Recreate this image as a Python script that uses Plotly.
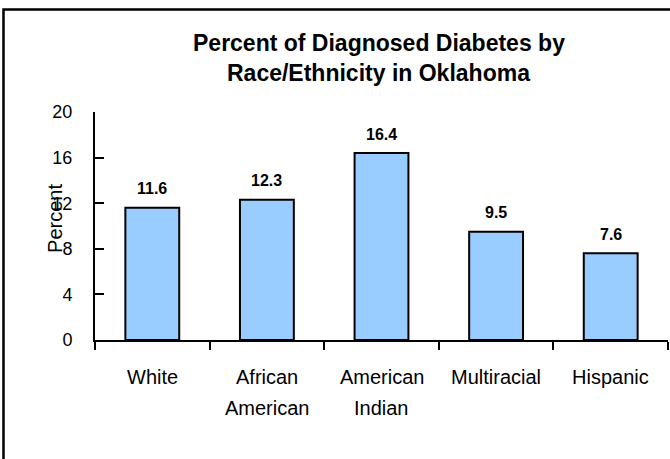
import plotly.graph_objects as go

# Diagnosed diabetes prevalence by race/ethnicity, Oklahoma
categories = ["White", "African American", "American Indian", "Multiracial", "Hispanic"]
label_lines = [["White"], ["African", "American"], ["American", "Indian"], ["Multiracial"], ["Hispanic"]]
percent = [11.6, 12.3, 16.4, 9.5, 7.6]
y_ticks = [0, 4, 8, 12, 16, 20]
title_lines = ["Percent of Diagnosed Diabetes by", "Race/Ethnicity in Oklahoma"]

REGULAR = "Liberation Sans, Arial, sans-serif"

fig = go.Figure(
    go.Bar(
        x=categories,
        y=percent,
        marker=dict(color="#99CCFF", line=dict(color="black", width=2)),
        hoverinfo="skip",
    )
)

annotations = []
# value labels above each bar
for cat, val in zip(categories, percent):
    annotations.append(dict(
        x=cat, y=val, xref="x", yref="y", text=f"<b>{val:.1f}</b>",
        showarrow=False, yanchor="middle", yshift=19,
        font=dict(family=REGULAR, size=16, color="black"),
    ))
# category labels, one annotation per line
for cat, lines in zip(categories, label_lines):
    for i, line in enumerate(lines):
        annotations.append(dict(
            x=cat, y=0, xref="x", yref="y", text=line, showarrow=False,
            yanchor="middle", yshift=-37 - 31 * i,
            font=dict(family=REGULAR, size=20, color="black"),
        ))
# y-axis title
annotations.append(dict(
    x=-0.07, y=0.535, xref="paper", yref="paper", text="Percent",
    showarrow=False, textangle=-90, xanchor="center", yanchor="middle",
    font=dict(family=REGULAR, size=20, color="black"),
))
# chart title, two lines
for i, line in enumerate(title_lines):
    annotations.append(dict(
        x=0.4956, y=1.0, xref="paper", yref="paper", text=f"<b>{line}</b>",
        showarrow=False, xanchor="center", yanchor="middle",
        yshift=69 - 30 * i,
        font=dict(family=REGULAR, size=23, color="black"),
    ))

fig.update_layout(
    width=670, height=459,
    margin=dict(l=95, r=2, t=112, b=119),
    paper_bgcolor="white", plot_bgcolor="white",
    showlegend=False,
    bargap=0.53,
    annotations=annotations,
    shapes=[
        # frame around the whole chart: top and left edges
        dict(type="path", xref="paper", yref="paper",
             path="M -0.1597,-0.6 L -0.1597,1.4496 L 1.01,1.4496",
             line=dict(color="black", width=2.5), layer="above"),
    ],
    xaxis=dict(
        type="category", range=[-0.5, 4.5], showgrid=False, zeroline=False,
        showline=True, linecolor="black", linewidth=2,
        ticks="outside", tickson="boundaries", ticklen=8, tickwidth=1.5, tickcolor="black",
        showticklabels=False, fixedrange=True,
    ),
    yaxis=dict(
        range=[0, 20], tickvals=y_ticks, showgrid=False, zeroline=False,
        showline=True, linecolor="black", linewidth=2,
        ticks="inside", ticklen=9, tickwidth=1.5, tickcolor="black",
        ticklabelstandoff=17,
        tickfont=dict(family=REGULAR, size=18, color="black"),
        fixedrange=True,
    ),
)

fig.write_html("out.html", config={"displayModeBar": False})
